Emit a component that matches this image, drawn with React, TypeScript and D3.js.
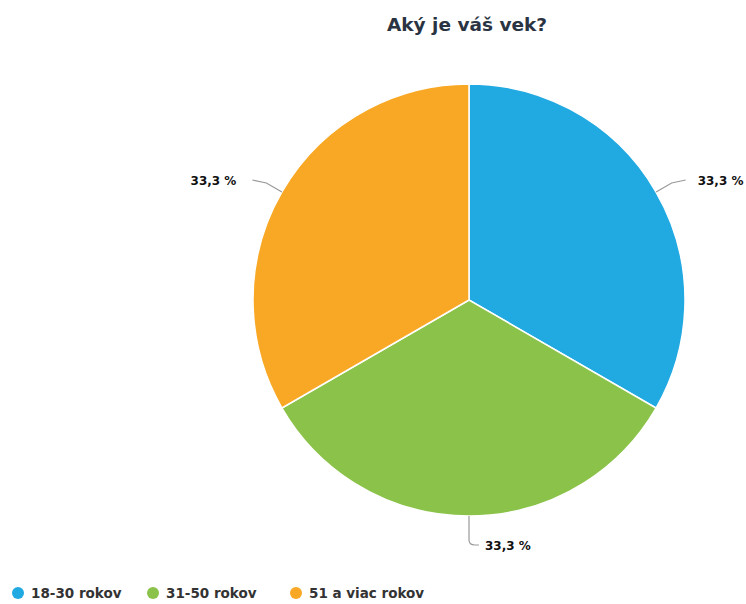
import React from "react";
import * as d3 from "d3";

const categories = ["18-30 rokov", "31-50 rokov", "51 a viac rokov"];
const values = [33.3, 33.3, 33.3];
const colors = ["#21a9e1", "#8bc34a", "#f9a825"];
const title = "Aký je váš vek?";

export default function App() {
  const W = 746, H = 604;
  const cx = 469, cy = 300, r = 216;
  const pie = d3.pie<number>().sort(null).value((d) => d)(values);
  const arc = d3.arc<d3.PieArcDatum<number>>().innerRadius(0).outerRadius(r);
  const font = "'DejaVu Sans', Verdana, sans-serif";
  const legendX = [12, 147, 290];

  return (
    <svg width={W} height={H} style={{ position: "absolute", left: 0, top: 0 }}>
      <rect width={W} height={H} fill="#fff" />
      <text x={467} y={31} textAnchor="middle" fontFamily={font} fontWeight="bold" fontSize={18.5} fill="#2a3342">
        {title}
      </text>
      <g transform={`translate(${cx},${cy})`}>
        {pie.map((p, i) => (
          <path key={i} d={arc(p) || ""} fill={colors[i]} stroke="#fff" strokeWidth={1.5} />
        ))}
        {pie.map((p, i) => {
          const mid = (p.startAngle + p.endAngle) / 2;
          const sx = Math.sin(mid) * r, sy = -Math.cos(mid) * r;
          const right = Math.sin(mid) > 0.1;
          const left = Math.sin(mid) < -0.1;
          let d = "";
          let lx = 0, ly = 0, anchor = "start";
          if (right) {
            const bx = Math.sin(mid) * (r + 18), by = -Math.cos(mid) * (r + 18);
            d = `M${sx},${sy} L${bx},${by} L${bx + 14},${by - 3}`;
            lx = bx + 26; ly = by + 2;
          } else if (left) {
            const bx = Math.sin(mid) * (r + 18), by = -Math.cos(mid) * (r + 18);
            d = `M${sx},${sy} L${bx},${by} L${bx - 14},${by - 3}`;
            lx = bx - 30; ly = by + 2;
          } else {
            d = `M${sx},${sy} L${sx},${sy + 24} Q${sx},${sy + 29} ${sx + 6},${sy + 29} L${sx + 10},${sy + 29}`;
            lx = sx + 16; ly = sy + 34; anchor = "start";
          }
          if (left) anchor = "end";
          return (
            <g key={"l" + i}>
              <path d={d} fill="none" stroke="#999" strokeWidth={1.2} />
              <text x={lx} y={ly} textAnchor={anchor} fontFamily={font} fontWeight="bold" fontSize={12} fill="#111">
                {values[i].toFixed(1).replace(".", ",")} %
              </text>
            </g>
          );
        })}
      </g>
      <g fontFamily={font} fontWeight="bold" fontSize={13.5} fill="#333">
        {categories.map((c, i) => {
          const x = legendX[i];
          return (
            <g key={c}>
              <circle cx={x + 6} cy={593} r={6} fill={colors[i]} />
              <text x={x + 19} y={598} fill="#333">{c}</text>
            </g>
          );
        })}
      </g>
    </svg>
  );
}
